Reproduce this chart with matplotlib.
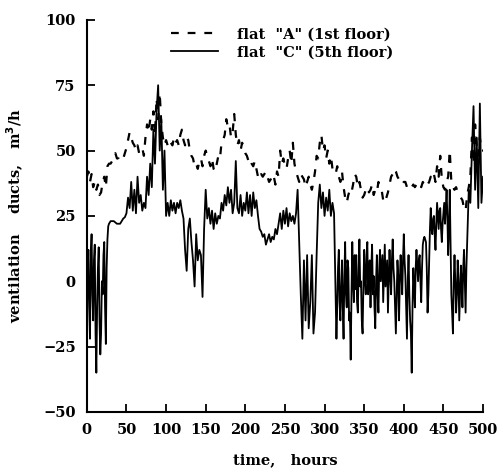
import numpy as np
import matplotlib
matplotlib.use("Agg")
import matplotlib.pyplot as plt

# time axis for flat "A", 2 hour steps
hours_a = np.arange(0, 501, 2)

# flat "A" (1st floor)
flat_a = [
    40, 42, 38, 41, 36, 38, 35, 37, 33, 34, 38, 40, 36, 44, 45, 45, 46, 48, 49, 47,
    47, 46, 46, 47, 49, 51, 54, 57, 55, 53, 52, 50, 52, 49, 50, 51, 48, 55, 60, 57,
    62, 58, 65, 56, 70, 62, 72, 60, 55, 52, 54, 52, 51, 53, 52, 55, 53, 54, 52, 56,
    58, 54, 52, 55, 54, 50, 48, 47, 44, 45, 43, 46, 47, 44, 48, 50, 48, 46, 44, 47,
    43, 42, 45, 48, 47, 53, 54, 56, 62, 59, 60, 55, 57, 64, 56, 52, 54, 50, 53, 51,
    49, 48, 46, 47, 45, 44, 46, 43, 40, 39, 41, 40, 41, 42, 40, 38, 39, 38, 40, 37,
    42, 40, 50, 45, 47, 44, 43, 47, 50, 45, 53, 45, 42, 40, 38, 41, 40, 39, 36, 38,
    40, 37, 35, 38, 42, 48, 47, 53, 56, 50, 52, 47, 50, 45, 48, 43, 42, 41, 44, 40,
    38, 42, 36, 32, 30, 33, 35, 34, 37, 41, 40, 36, 38, 35, 32, 33, 35, 36, 34, 35,
    37, 33, 35, 34, 38, 36, 35, 31, 30, 32, 34, 37, 40, 41, 43, 42, 40, 39, 38, 37,
    38, 38, 36, 36, 35, 36, 37, 36, 37, 36, 37, 36, 38, 37, 38, 37, 38, 40, 39, 41,
    38, 44, 40, 48, 39, 36, 35, 38, 40, 50, 38, 36, 35, 36, 34, 33, 32, 31, 28, 27,
    33, 36, 40, 55, 45, 60, 52, 48, 55, 50, 50,
]

# time axis for flat "C": hourly where the signal is very noisy
hours_c = np.concatenate([np.arange(0, 28), np.arange(28, 313, 2),
                          np.arange(313, 481), np.arange(482, 501, 2)])

# flat "C" (5th floor)
flat_c = [
    # 0-27 h
    -20, 5, 12, -10, -22, 10, 18, -5, -15, 8,
    14, -20, -35, -10, 5, 13, -15, -28, -20, 0,
    -5, 10, 15, -10, -24, 5, 16, 21,
    # 28-312 h
    22, 23, 23, 23, 22.5, 22,
    22, 22, 23, 24, 24.5, 26, 32, 28, 38, 27, 35, 26, 40, 30, 33, 27, 30, 28, 40, 33,
    45, 36, 58, 45, 65, 75, 50, 62, 35, 50, 25, 30, 25, 31, 27, 30, 26, 30, 28, 31,
    27, 24, 12, 4, 20, 24, 15, 8, -2, 18, 8, 12, 10, -6, 20, 35, 24, 28, 22, 27,
    20, 26, 22, 25, 24, 30, 27, 33, 29, 36, 30, 35, 26, 30, 46, 28, 26, 33, 25, 30,
    27, 34, 26, 33, 25, 34, 28, 31, 25, 20, 19, 17, 18, 14, 16, 18, 15, 17, 16, 20,
    18, 22, 26, 20, 27, 22, 28, 21, 26, 23, 25, 22, 26, 35, 15, -5, -22, 8, -15, 10,
    -18, -8, 10, -20, -12, 10, 30, 37, 28, 34, 25, 32, 27, 35, 25, 30, 26,
    # 313-480 h
    10, -5, -22, -10, 5, 12, -8, -15, -2, 8,
    -10, -22, 2, 15, -5, -10, 8, 5, -15, -12,
    -30, -5, 15, 0, -8, 10, -3, 10, -8, -12,
    5, 16, -2, 0, -15, -20, -2, 12, 0, -5,
    10, 15, -5, 0, 8, -10, 5, 14, -5, 2,
    -10, -18, 0, 10, -5, -12, 5, 12, 0, 5,
    10, -8, 3, 14, -2, 3, 8, -12, 0, 12,
    2, -5, 8, 16, 5, 0, -10, -20, -5, 8,
    2, -15, 0, 10, 3, -5, 8, 18, 8, 2,
    -10, -22, 0, 10, -5, -15, -20, -35, -10, 5,
    -2, -10, 5, 12, 6, 0, 8, 10, 0, -8,
    5, 14, 16, 17, 16, 15, 5, -12, -5, 8,
    20, 28, 20, 18, 24, 25, 18, 12, 22, 30,
    25, 20, 27, 28, 20, 15, 22, 26, 30, 22,
    28, 35, 25, 10, 20, 35, 15, -5, -12, -20,
    0, 10, 0, -12, -5, 8, 0, -15, -5, 6,
    0, -10, 5, 12, 0, -12, 5, 15,
    # 482-500 h
    35, 30, 50, 67, 35, 55, 28, 68, 30, 40,
]

plt.rcParams['font.family'] = ['DejaVu Serif']
plt.rcParams['font.weight'] = 'bold'
plt.rcParams['font.size'] = 10.5

fig = plt.figure(figsize=(4.99, 4.74), dpi=100)
ax = fig.add_axes([0.174, 0.131, 0.794, 0.827])

ax.plot(hours_a, flat_a, color='black', lw=1.6, linestyle=(0, (3.5, 4)),
        label='flat  "A" (1st floor)')
ax.plot(hours_c, flat_c, color='black', lw=1.3, label='flat  "C" (5th floor)')

ax.set_xlim(0, 500)
ax.set_ylim(-50, 100)
ax.set_xticks(np.arange(0, 501, 50))
ax.set_yticks(np.arange(-50, 101, 25))

for s in ['top', 'right']:
    ax.spines[s].set_visible(False)
for s in ['left', 'bottom']:
    ax.spines[s].set_linewidth(1.5)
ax.tick_params(direction='in', length=6, width=1.3, labelsize=10.5, pad=8)

ax.set_xlabel('time,   hours', fontweight='bold', labelpad=12)
ax.set_ylabel('ventilation    ducts,   m$^\\mathbf{3}$/h',
              fontweight='bold', labelpad=12)

ax.legend(loc='upper left', bbox_to_anchor=(0.195, 1.0), frameon=False,
          handlelength=3.2, handletextpad=1.3, labelspacing=0.3,
          borderpad=0)

fig.savefig('out.png', dpi=100)
